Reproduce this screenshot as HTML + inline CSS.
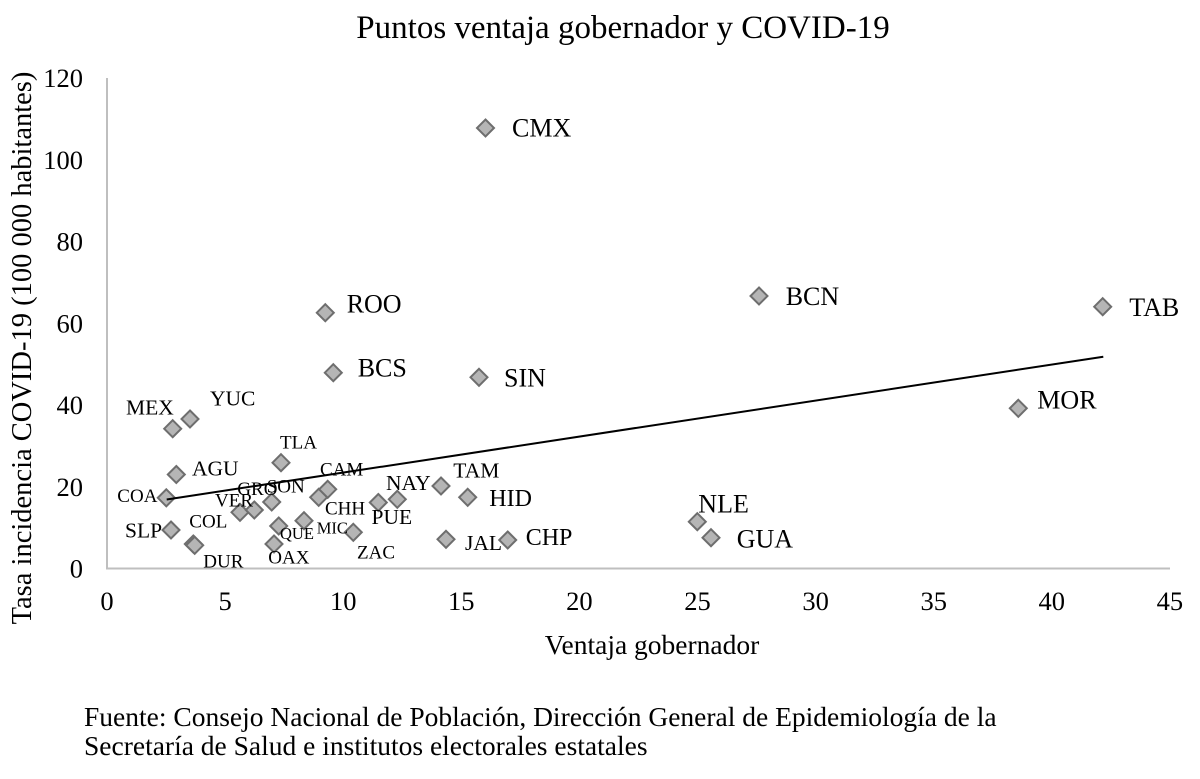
<!DOCTYPE html>
<html>
<head>
<meta charset="utf-8">
<style>
html,body{margin:0;padding:0;background:#fff;}
svg{display:block;}
text{font-family:"Liberation Serif","Times New Roman",serif;fill:#000;}
</style>
</head>
<body>
<svg width="1200" height="779" viewBox="0 0 1200 779" xmlns="http://www.w3.org/2000/svg">
<rect width="1200" height="779" fill="#fff"/>
<text x="623" y="38" font-size="33" text-anchor="middle">Puntos ventaja gobernador y COVID-19</text>

<!-- axes -->
<line x1="107" y1="78" x2="107" y2="569" stroke="#bfbfbf" stroke-width="2"/>
<line x1="106" y1="568.5" x2="1170" y2="568.5" stroke="#bfbfbf" stroke-width="2"/>

<!-- y ticks -->
<g font-size="26.5" text-anchor="end">
<text x="83" y="577.5">0</text>
<text x="83" y="495.8">20</text>
<text x="83" y="414">40</text>
<text x="83" y="332.3">60</text>
<text x="83" y="250.5">80</text>
<text x="83" y="168.8">100</text>
<text x="83" y="87">120</text>
</g>
<!-- x ticks -->
<g font-size="26.5" text-anchor="middle">
<text x="107" y="610">0</text>
<text x="225.1" y="610">5</text>
<text x="343.2" y="610">10</text>
<text x="461.3" y="610">15</text>
<text x="579.4" y="610">20</text>
<text x="697.5" y="610">25</text>
<text x="815.6" y="610">30</text>
<text x="933.7" y="610">35</text>
<text x="1051.8" y="610">40</text>
<text x="1169.9" y="610">45</text>
</g>

<text x="652" y="654" font-size="27.5" text-anchor="middle">Ventaja gobernador</text>
<text transform="translate(31,348) rotate(-90)" font-size="28.5" text-anchor="middle">Tasa incidencia COVID-19 (100 000 habitantes)</text>

<!-- diamonds -->
<g fill="#b5b5b5" stroke="#6e6e6e" stroke-width="2">
<polygon points="485.5,119.5 494,128 485.5,136.5 477,128"/>
<polygon points="325.3,304.2 333.8,312.7 325.3,321.2 316.8,312.7"/>
<polygon points="333.3,364.2 341.8,372.7 333.3,381.2 324.8,372.7"/>
<polygon points="479,368.8 487.5,377.3 479,385.8 470.5,377.3"/>
<polygon points="759,287.5 767.5,296 759,304.5 750.5,296"/>
<polygon points="1102.7,298.2 1111.2,306.7 1102.7,315.2 1094.2,306.7"/>
<polygon points="1018.3,399.8 1026.8,408.3 1018.3,416.8 1009.8,408.3"/>
<polygon points="697.3,513.2 705.8,521.7 697.3,530.2 688.8,521.7"/>
<polygon points="711,529.2 719.5,537.7 711,546.2 702.5,537.7"/>
<polygon points="172.7,420.2 181.2,428.7 172.7,437.2 164.2,428.7"/>
<polygon points="190,410.5 198.5,419 190,427.5 181.5,419"/>
<polygon points="281,454.2 289.5,462.7 281,471.2 272.5,462.7"/>
<polygon points="176.3,466 184.8,474.5 176.3,483 167.8,474.5"/>
<polygon points="166.3,489.3 174.8,497.8 166.3,506.3 157.8,497.8"/>
<polygon points="171,521.5 179.5,530 171,538.5 162.5,530"/>
<polygon points="193.3,535.5 201.8,544 193.3,552.5 184.8,544"/>
<polygon points="194.7,536.8 203.2,545.3 194.7,553.8 186.2,545.3"/>
<polygon points="240,503.8 248.5,512.3 240,520.8 231.5,512.3"/>
<polygon points="254.3,501.5 262.8,510 254.3,518.5 245.8,510"/>
<polygon points="271.7,493.5 280.2,502 271.7,510.5 263.2,502"/>
<polygon points="278.7,517.5 287.2,526 278.7,534.5 270.2,526"/>
<polygon points="274,535.5 282.5,544 274,552.5 265.5,544"/>
<polygon points="304,512.2 312.5,520.7 304,529.2 295.5,520.7"/>
<polygon points="318.7,488.8 327.2,497.3 318.7,505.8 310.2,497.3"/>
<polygon points="327.7,480.8 336.2,489.3 327.7,497.8 319.2,489.3"/>
<polygon points="353.3,523.8 361.8,532.3 353.3,540.8 344.8,532.3"/>
<polygon points="378.3,494 386.8,502.5 378.3,511 369.8,502.5"/>
<polygon points="397.3,490.8 405.8,499.3 397.3,507.8 388.8,499.3"/>
<polygon points="441,477.5 449.5,486 441,494.5 432.5,486"/>
<polygon points="467.7,488.8 476.2,497.3 467.7,505.8 459.2,497.3"/>
<polygon points="446,530.8 454.5,539.3 446,547.8 437.5,539.3"/>
<polygon points="507.7,531.5 516.2,540 507.7,548.5 499.2,540"/>
</g>

<!-- trend line -->
<line x1="166.7" y1="499.5" x2="1103.3" y2="356.7" stroke="#000" stroke-width="2"/>

<!-- labels -->
<g font-size="26">
<text x="512" y="136.5">CMX</text>
<text x="346.7" y="312.3">ROO</text>
<text x="357.7" y="376.7">BCS</text>
<text x="504" y="386.7">SIN</text>
<text x="785.7" y="305">BCN</text>
<text x="1129.3" y="316">TAB</text>
<text x="1037.3" y="408.3">MOR</text>
<text x="698.3" y="512.3">NLE</text>
<text x="736.7" y="547.7">GUA</text>
</g>
<g font-size="24">
<text x="489.3" y="506">HID</text>
<text x="525.7" y="545">CHP</text>
</g>
<g font-size="21.5">
<text x="192" y="475.5">AGU</text>
<text x="125" y="537.3">SLP</text>
<text x="126" y="414.3">MEX</text>
<text x="210" y="405.3">YUC</text>
<text x="465" y="550">JAL</text>
<text x="371.5" y="524">PUE</text>
<text x="453.3" y="477.3">TAM</text>
<text x="386" y="490">NAY</text>
</g>
<g font-size="19">
<text x="117.3" y="502">COA</text>
<text x="203.3" y="567.3">DUR</text>
<text x="189.3" y="527.3">COL</text>
<text x="215" y="506.5">VER</text>
<text x="237.3" y="495">GRO</text>
<text x="266.7" y="492.5">SON</text>
<text x="280" y="448.3">TLA</text>
<text x="320" y="475.5">CAM</text>
<text x="325" y="514.5">CHH</text>
<text x="268.3" y="563.3">OAX</text>
<text x="357" y="558.3">ZAC</text>
</g>
<g font-size="16.5">
<text x="316.7" y="533.3">MIC</text>
<text x="280" y="539.2">QUE</text>
</g>

<!-- source -->
<g font-size="27.5">
<text x="84" y="726">Fuente: Consejo Nacional de Población, Dirección General de Epidemiología de la</text>
<text x="84" y="755">Secretaría de Salud e institutos electorales estatales</text>
</g>
</svg>
</body>
</html>
